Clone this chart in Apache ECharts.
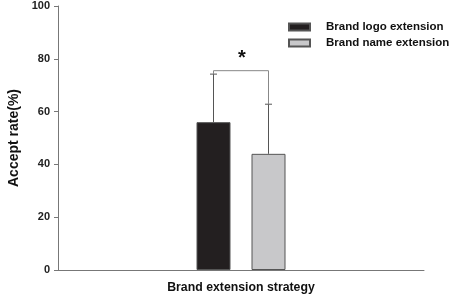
<!DOCTYPE html>
<html lang="en" style="height: 100%">
<head>
<meta charset="utf-8">
<title>Accept rate by brand extension strategy</title>
</head>
<body style="height: 100%; margin: 0; background: #fff">
<div id="container" style="height: 100%"></div>
<script type="text/javascript" src="https://cdn.jsdelivr.net/npm/echarts@6/dist/echarts.min.js"></script>
<script type="text/javascript">
var dom = document.getElementById('container');
var myChart = echarts.init(dom);

// Data
var categories = ['Brand extension strategy'];
var seriesNames = ['Brand logo extension', 'Brand name extension'];
var logoMean = [56];
var nameMean = [44];
var logoErrTop = [74.2];
var nameErrTop = [62.8];
var bracketLevel = [75.5];
var yTicks = [0, 20, 40, 60, 80, 100];

var barWidth = 34;
var barGapPx = 21;
var halfStep = (barWidth + barGapPx) / 2;
var lineColor = '#555';

function errorSeries(tops, means, dir) {
    return {
        type: 'custom',
        silent: true,
        z: 3,
        data: tops.map(function (t, i) { return [i, means[i], t]; }),
        renderItem: function (params, api) {
            var base = api.coord([api.value(0), api.value(1)]);
            var top = api.coord([api.value(0), api.value(2)]);
            var x = base[0] + dir * halfStep;
            return {
                type: 'group',
                children: [
                    { type: 'line', shape: { x1: x, y1: base[1], x2: x, y2: top[1] }, style: { stroke: lineColor, lineWidth: 1 } },
                    { type: 'line', shape: { x1: x - 3.5, y1: top[1], x2: x + 3.5, y2: top[1] }, style: { stroke: lineColor, lineWidth: 1 } }
                ]
            };
        }
    };
}

var option = {
    animation: false,
    textStyle: { fontFamily: 'Liberation Sans, Arial, sans-serif' },
    grid: { left: 58, right: 35, top: 6, bottom: 27, outerBoundsMode: 'none', containLabel: false },
    legend: {
        orient: 'vertical',
        left: 288,
        top: 21,
        padding: 0,
        itemWidth: 21,
        itemHeight: 7,
        itemGap: 4,
        icon: 'rect',
        data: seriesNames,
        textStyle: { fontWeight: 'bold', fontSize: 11.5, color: '#111', padding: [0, 0, 0, 11] }
    },
    xAxis: {
        type: 'category',
        data: categories,
        name: categories[0],
        nameLocation: 'middle',
        nameGap: 12,
        nameTextStyle: { fontWeight: 'bold', fontSize: 12.3, color: '#111' },
        axisLine: { lineStyle: { color: '#777' } },
        axisTick: { alignWithLabel: true, length: 3, lineStyle: { color: '#777' } },
        axisLabel: { show: false }
    },
    yAxis: {
        type: 'value',
        min: yTicks[0],
        max: yTicks[yTicks.length - 1],
        interval: 20,
        name: 'Accept rate(%)',
        nameLocation: 'middle',
        nameGap: 37,
        nameTextStyle: { fontWeight: 'bold', fontSize: 14, color: '#111' },
        axisLine: { show: true, lineStyle: { color: '#777' } },
        axisTick: { show: true, length: 4, lineStyle: { color: '#777' } },
        axisLabel: { fontWeight: 'bold', fontSize: 11, color: '#222', margin: 8 },
        splitLine: { show: false }
    },
    series: [
        {
            name: seriesNames[0],
            type: 'bar',
            data: logoMean,
            barWidth: barWidth,
            barGap: (barGapPx / barWidth * 100) + '%',
            itemStyle: { color: '#231f20', borderColor: '#555', borderWidth: 1 }
        },
        {
            name: seriesNames[1],
            type: 'bar',
            data: nameMean,
            barWidth: barWidth,
            itemStyle: { color: '#c8c8ca', borderColor: '#555', borderWidth: 1 }
        },
        errorSeries(logoErrTop, logoMean, -1),
        errorSeries(nameErrTop, nameMean, 1),
        {
            type: 'custom',
            silent: true,
            z: 3,
            data: bracketLevel.map(function (b, i) { return [i, b, logoErrTop[i], nameErrTop[i]]; }),
            renderItem: function (params, api) {
                var c = api.coord([api.value(0), api.value(1)]);
                var l = api.coord([api.value(0), api.value(2)]);
                var r = api.coord([api.value(0), api.value(3)]);
                var xl = c[0] - halfStep, xr = c[0] + halfStep;
                return {
                    type: 'group',
                    children: [
                        { type: 'polyline', shape: { points: [[xl, l[1]], [xl, c[1]], [xr, c[1]], [xr, r[1]]] }, style: { stroke: '#888', fill: null, lineWidth: 1 } },
                        { type: 'text', x: c[0] + 1, y: c[1] - 2, style: { text: '*', fontSize: 20, fontWeight: 'bold', fill: '#111', align: 'center', verticalAlign: 'bottom', fontFamily: 'Liberation Sans, Arial, sans-serif' } }
                    ]
                };
            }
        }
    ]
};

myChart.setOption(option);
window.addEventListener('resize', myChart.resize);
</script>
</body>
</html>
